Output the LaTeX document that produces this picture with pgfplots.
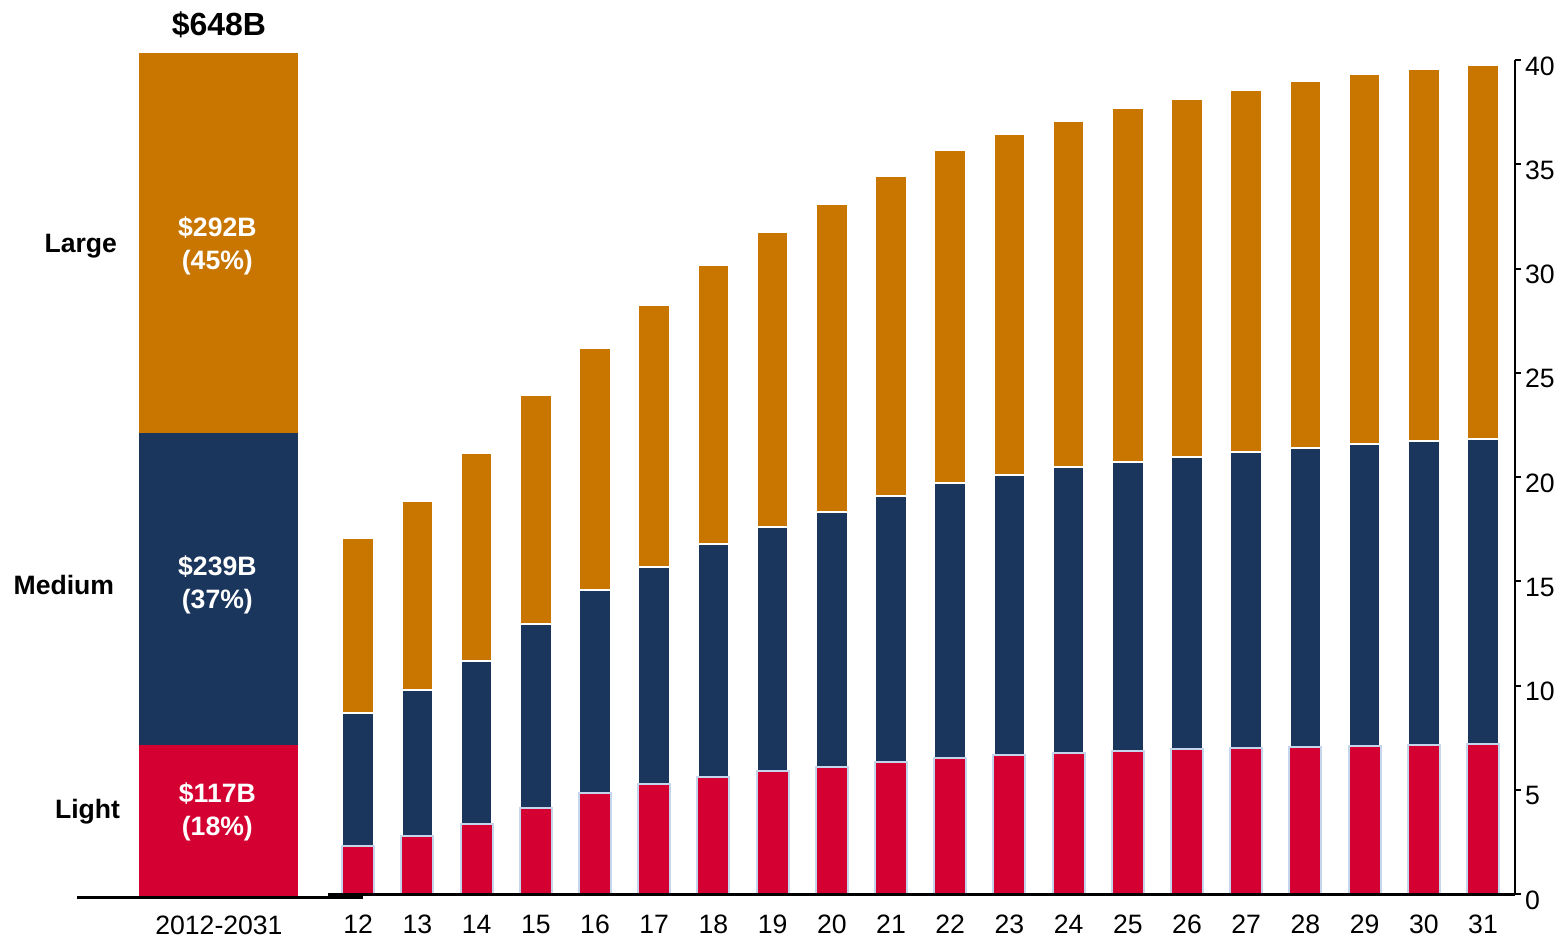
\documentclass[border=0pt]{standalone}
\usepackage{fontspec}
\setmainfont{Liberation Sans}
\usepackage{pgfplots}
\pgfplotsset{compat=1.18}
\usepackage{pgfplotstable}

\definecolor{cLarge}{HTML}{C87600}
\definecolor{cMedium}{HTML}{1B365D}
\definecolor{cLight}{HTML}{D50032}
\definecolor{cEdge}{HTML}{C5D5EC}

% Annual deliveries by class, 2012-2031
\pgfplotstableread{
yr light medium large
12 2.30 6.38 8.39
13 2.78 7.00 9.07
14 3.36 7.82 9.97
15 4.12 8.83 10.98
16 4.84 9.74 11.61
17 5.28 10.40 12.57
18 5.61 11.18 13.38
19 5.90 11.70 14.15
20 6.09 12.23 14.77
21 6.33 12.76 15.35
22 6.52 13.19 15.97
23 6.67 13.43 16.35
24 6.76 13.72 16.60
25 6.86 13.86 16.98
26 6.95 14.01 17.17
27 7.00 14.20 17.36
28 7.05 14.34 17.60
29 7.10 14.48 17.75
30 7.15 14.58 17.84
31 7.19 14.63 17.94
}\annual

\newcommand{\tickfont}{\fontsize{13.3}{15}\selectfont}
\newcommand{\lblfont}{\fontsize{13.3}{16.5}\selectfont\bfseries}

\pgfplotsset{
  every outer x axis line/.append style={line width=1.5pt},
  every outer y axis line/.append style={line width=1.3pt},
}

\begin{document}
\begin{tikzpicture}
\path[use as bounding box] (0,0) rectangle (779pt,469.5pt);

% Cumulative total 2012-2031
\begin{axis}[
  at={(38.5pt,21pt)}, anchor=south west,
  scale only axis, width=143pt, height=422pt,
  xmin=-0.893, xmax=0.906, ymin=0, ymax=648,
  enlargelimits=false,
  axis x line=bottom, axis y line=none,
  axis line style={-},
  axis on top,
  xtick={0}, xticklabels={2012-2031},
  xtick style={draw=none},
  xticklabel style={yshift=-4pt},
  ytick=\empty,
  ticklabel style={font=\tickfont},
  ybar stacked, bar width=79.5pt,
  clip=false,
]
\addplot[fill=cLight, draw=none] coordinates {(0,117)};
\addplot[fill=cMedium, draw=none] coordinates {(0,239)};
\addplot[fill=cLarge, draw=none] coordinates {(0,292)};

\coordinate (vLarge) at (axis cs:-0.01,499.8);
\coordinate (vMedium) at (axis cs:-0.01,239.5);
\coordinate (vLight) at (axis cs:-0.01,65.3);
\coordinate (nLarge) at (axis cs:-0.597,499.8);
\coordinate (nMedium) at (axis cs:-0.615,239.5);
\coordinate (nLight) at (axis cs:-0.578,65.3);
\coordinate (vTotal) at (axis cs:0,670);
\end{axis}

% Labels for the cumulative bar
\node[font=\lblfont, text=white, align=center] at (vLarge) {\$292B\\(45\%)};
\node[font=\lblfont, text=white, align=center] at (vMedium) {\$239B\\(37\%)};
\node[font=\lblfont, text=white, align=center] at (vLight) {\$117B\\(18\%)};
\node[font=\lblfont, anchor=east] at (nLarge) {Large};
\node[font=\lblfont, anchor=east] at (nMedium) {Medium};
\node[font=\lblfont, anchor=east] at (nLight) {Light};
\node[font=\fontsize{16}{18}\selectfont\bfseries] at (vTotal) {\$648B};

% Annual values
\begin{axis}[
  at={(164pt,22.5pt)}, anchor=south west,
  scale only axis, width=593.5pt, height=417pt,
  xmin=11.49, xmax=31.54, ymin=0, ymax=40,
  enlargelimits=false,
  axis x line=bottom, axis y line=right,
  axis line style={-},
  axis on top,
  xtick={12,...,31},
  xtick style={draw=none},
  xticklabel style={yshift=-4pt},
  ytick={0,5,...,40},
  ytick style={line width=1pt, black},
  yticklabel style={yshift=-3pt, xshift=-1.5pt},
  tick align=outside, major tick length=3pt,
  ticklabel style={font=\tickfont},
  /pgf/number format/assume math mode=true,
  ybar stacked, bar width=16pt,
]
\addplot[fill=cLight, draw=cEdge, line width=1pt] table[x=yr, y=light] {\annual};
\addplot[fill=cMedium, draw=white, line width=1.2pt] table[x=yr, y=medium] {\annual};
\addplot[fill=cLarge, draw=white, line width=1.2pt] table[x=yr, y=large] {\annual};
\end{axis}
\end{tikzpicture}
\end{document}
